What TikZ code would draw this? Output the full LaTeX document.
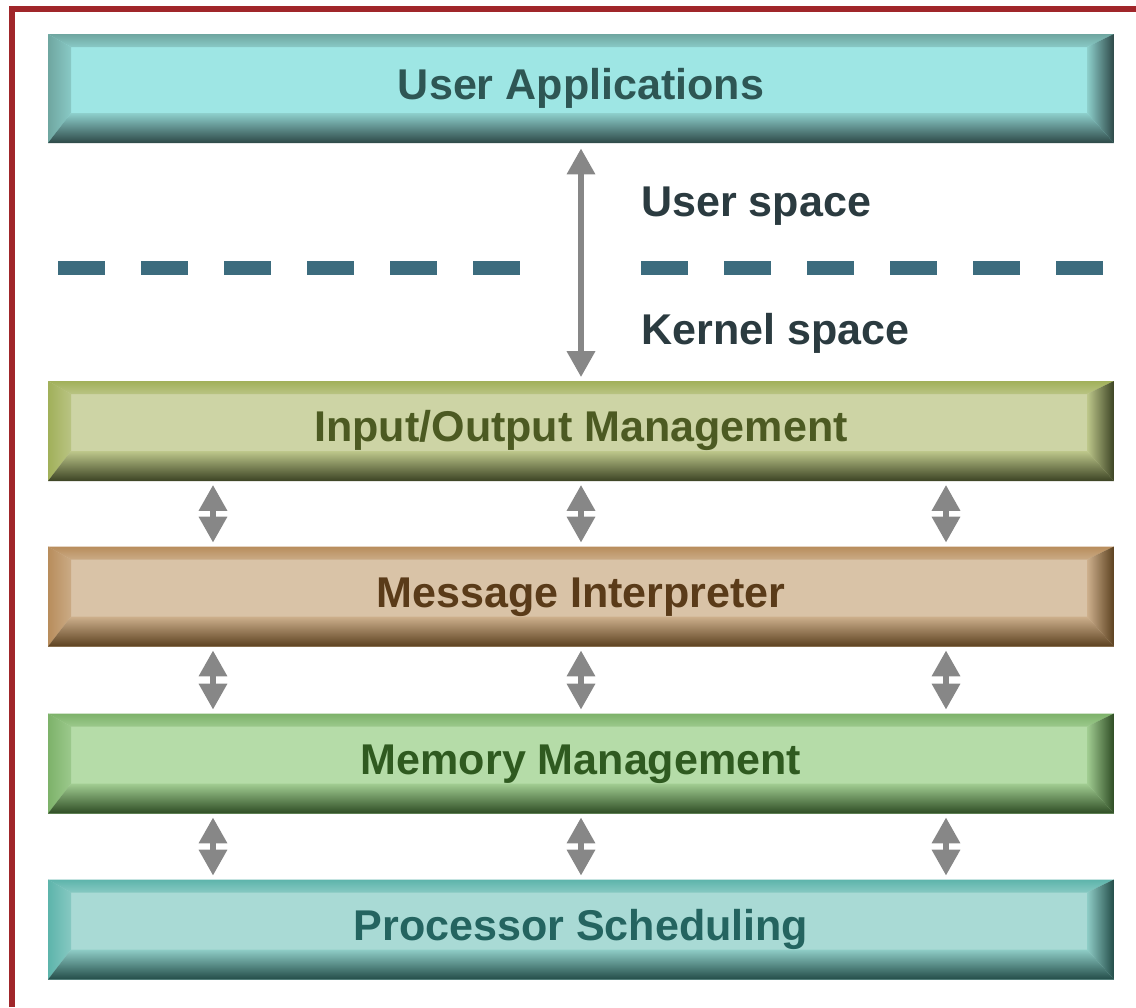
\documentclass[tikz,border=0pt]{standalone}
\usepackage{fontspec}
\setmainfont{Liberation Sans}
\usetikzlibrary{arrows.meta,calc}

\definecolor{frame}{HTML}{A0262A}
\definecolor{arrowgray}{HTML}{878787}
\definecolor{sepblue}{HTML}{3C6C7E}
\definecolor{lbltext}{HTML}{2B3B40}
% user applications
\definecolor{uaFill}{HTML}{9EE6E4}\definecolor{uaEdge}{HTML}{6FA6A0}\definecolor{uaDark}{HTML}{2D4847}\definecolor{uaText}{HTML}{2E5654}
% input/output
\definecolor{ioFill}{HTML}{CDD4A5}\definecolor{ioEdge}{HTML}{A1B05A}\definecolor{ioDark}{HTML}{3C4324}\definecolor{ioText}{HTML}{4C5A22}
% message interpreter
\definecolor{miFill}{HTML}{D9C3A7}\definecolor{miEdge}{HTML}{B88D5C}\definecolor{miDark}{HTML}{5C4120}\definecolor{miText}{HTML}{5A3B19}
% memory
\definecolor{mmFill}{HTML}{B5DCA8}\definecolor{mmEdge}{HTML}{7DB26A}\definecolor{mmDark}{HTML}{2E4C24}\definecolor{mmText}{HTML}{2F5A20}
% processor
\definecolor{psFill}{HTML}{A9DAD5}\definecolor{psEdge}{HTML}{5DB4AB}\definecolor{psDark}{HTML}{234C48}\definecolor{psText}{HTML}{246460}

\newcommand\layerfont{\bfseries\fontsize{24.5}{29}\selectfont}

\tikzset{
  layer/.style n args={4}{fill=#1, text=#4, font=\layerfont,
    minimum width=21.32cm, minimum height=2cm, inner sep=0pt,
    text height=17.6pt, text depth=5.1pt,
    path picture={
      \coordinate (nw) at (path picture bounding box.north west);
      \coordinate (ne) at (path picture bounding box.north east);
      \coordinate (sw) at (path picture bounding box.south west);
      \coordinate (se) at (path picture bounding box.south east);
      \coordinate (inw) at ($(nw)+(0.46,-0.26)$);
      \coordinate (ine) at ($(ne)+(-0.54,-0.26)$);
      \coordinate (isw) at ($(sw)+(0.46,0.6)$);
      \coordinate (ise) at ($(se)+(-0.54,0.6)$);
      \shade[top color=#2, bottom color=#1!55!#2] (nw) -- (ne) -- (ine) -- (inw) -- cycle;
      \shade[left color=#2, right color=#1!55!#2] (nw) -- (inw) -- (isw) -- (sw) -- cycle;
      \shade[top color=#1!65!#2, bottom color=#3] (sw) -- (isw) -- (ise) -- (se) -- cycle;
      \shade[left color=#1!65!#2, right color=#3] (se) -- (ise) -- (ine) -- (ne) -- cycle;
    }},
  biarrow/.style={draw=arrowgray, line width=3.6pt,
    {Triangle[length=0.52cm,width=0.54cm]}-{Triangle[length=0.52cm,width=0.54cm]},
    shorten <=0.07cm, shorten >=0.07cm},
  spacelbl/.style={anchor=west, text=lbltext, font=\layerfont, inner sep=0pt,
    text height=17.6pt, text depth=5.1pt},
  separator/.style={draw=sepblue, line width=0.28cm, dash pattern=on 0.94cm off 0.72cm}
}

\begin{document}
\begin{tikzpicture}
  \useasboundingbox (0,0) rectangle (22.72,-20.14);
  %frame
  \draw[frame, line width=0.12cm] (0.24,-20.14) -- (0.24,-0.18) -- (22.72,-0.18);
  %nodes
  \node[layer={uaFill}{uaEdge}{uaDark}{uaText}, minimum height=2.18cm] at (11.62,-1.77) (ua) {User Applications};
  \node[layer={ioFill}{ioEdge}{ioDark}{ioText}] at (11.62,-8.62) (io) {Input/Output Management};
  \node[layer={miFill}{miEdge}{miDark}{miText}] at (11.62,-11.93) (mi) {Message Interpreter};
  \node[layer={mmFill}{mmEdge}{mmDark}{mmText}] at (11.62,-15.27) (mm) {Memory Management};
  \node[layer={psFill}{psEdge}{psDark}{psText}] at (11.62,-18.59) (ps) {Processor Scheduling};
  \node[spacelbl] at (12.82,-4.12) (userlbl) {User space};
  \node[spacelbl] at (12.82,-6.67) (kernlbl) {Kernel space};
  %user/kernel boundary
  \coordinate (sepA) at (1.16,-5.35);
  \coordinate (sepB) at (10.4,-5.35);
  \coordinate (sepC) at (12.82,-5.35);
  \coordinate (sepD) at (22.06,-5.35);
  \draw[separator] (sepA) -- (sepB);
  \draw[separator] (sepC) -- (sepD);
  %arrows
  \draw[biarrow, shorten <=0.1cm] (ua.south) -- (io.north);
  \foreach \dx in {-7.36,0,7.3}
    \foreach \a/\b in {io/mi,mi/mm,mm/ps}
      \draw[biarrow] ([xshift=\dx cm]\a.south) -- ([xshift=\dx cm]\b.north);
\end{tikzpicture}
\end{document}
